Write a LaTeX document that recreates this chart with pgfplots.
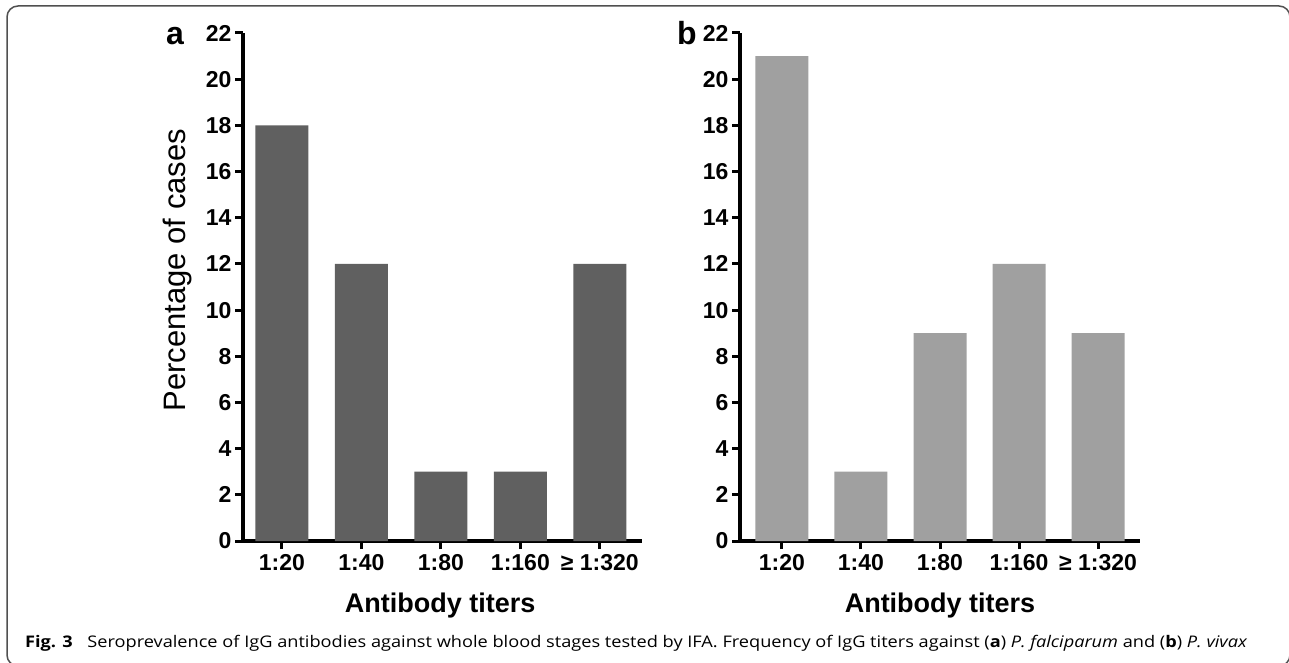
\documentclass[border=0pt]{standalone}
\usepackage{fontspec}
\setmainfont{Liberation Sans}
\newfontfamily\capfont{Open Sans}
\usepackage{graphicx}
\usepackage{pgfplots}
\pgfplotsset{compat=1.18}
\definecolor{bara}{RGB}{96,96,96}
\definecolor{barb}{RGB}{160,160,160}
\definecolor{framec}{RGB}{80,80,80}
\pgfplotsset{
  panel/.style={
    scale only axis,
    anchor=south west,
    height=508pt,
    ymin=0, ymax=22,
    ytick={0,2,...,22},
    xtick={0,1,2,3,4},
    xticklabels={1:20,1:40,1:80,1:160,≥ 1:320},
    axis lines*=left,
    axis line style={line width=3.5pt, -},
    tick style={line width=3pt, black},
    major tick length=8pt,
    tick align=outside,
    /pgf/number format/assume math mode=true,
    ticklabel style={font=\fontsize{23}{27}\selectfont\bfseries},
    xticklabel style={yshift=-2pt},
    ylabel={Percentage of cases},
    xlabel={\textbf{Antibody titers}},
    label style={font=\fontsize{31}{36}\selectfont},
    xlabel style={font=\fontsize{27}{31}\selectfont\bfseries, anchor=base},
    ylabel style={anchor=center},
    ybar, bar width=53pt,
    clip=false,
  }
}
\begin{document}
\begin{tikzpicture}[x=1pt,y=1pt]
\useasboundingbox (0,0) rectangle (1289,662);
\draw[framec, line width=1.5pt, rounded corners=11pt] (7,-4) rectangle (1290,656);
\begin{axis}[panel, at={(243pt,121pt)}, width=399pt, xmin=-0.49, xmax=4.53,
  ylabel style={at={(axis description cs:-0.163,0.533)}},
  xlabel style={at={(axis description cs:0.494,-0.1417)}}]
\addplot[fill=bara, draw=none] coordinates {(0,18) (1,12) (2,3) (3,3) (4,12)};
\end{axis}
\begin{axis}[panel, at={(740pt,121pt)}, width=400pt, xmin=-0.53, xmax=4.53,
  ylabel={},
  xlabel style={at={(axis description cs:0.5,-0.1417)}}]
\addplot[fill=barb, draw=none] coordinates {(0,21) (1,3) (2,9) (3,12) (4,9)};
\end{axis}
\node[anchor=base, font=\fontsize{32}{36}\selectfont\bfseries] at (175,617) {a};
\node[anchor=base, font=\fontsize{32}{36}\selectfont\bfseries] at (687,617) {b};
\node[anchor=base west, inner sep=0pt, font=\capfont\fontsize{16}{19}\selectfont] at (25,15)
  {\resizebox{1222pt}{\height}{\textbf{Fig. 3}\hspace{0.8em}Seroprevalence of IgG antibodies against whole blood stages tested by IFA. Frequency of IgG titers against (\textbf{a}) \textit{P. falciparum} and (\textbf{b}) \textit{P. vivax}}};
\end{tikzpicture}
\end{document}
